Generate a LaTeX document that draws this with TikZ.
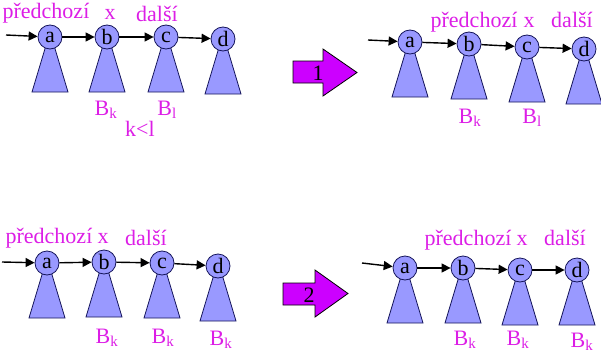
\documentclass[tikz,border=0pt]{standalone}
\usepackage{fontspec}
\setmainfont{Liberation Serif}
\usetikzlibrary{arrows.meta}
\definecolor{nodefill}{RGB}{153,153,255}
\definecolor{nodedraw}{RGB}{20,20,90}
\definecolor{lbl}{RGB}{220,30,230}
\definecolor{bigarrow}{RGB}{204,0,255}
\tikzset{
  circ/.style={circle,draw=nodedraw,fill=nodefill,line width=0.8pt,minimum size=24pt,inner sep=0pt,font=\rmfamily\fontsize{22}{24}\selectfont},
  tri/.style={draw=nodedraw,fill=nodefill,line width=0.8pt},
  lab/.style={text=lbl,anchor=base,inner sep=0pt,font=\rmfamily\fontsize{22}{24}\selectfont},
  link/.style={-{Triangle[length=9pt,width=9pt]},line width=1.4pt,black},
  bigarr/.style={draw=black,fill=bigarrow,line width=0.8pt},
}
\newcommand\mytree[4]{%
  \draw[tri] (#2-1.5,#3) -- (#2+1.5,#3) -- (#2+18,#3+55) -- (#2-18,#3+55) -- cycle;
  \node[circ] (#1) at (#2,#3) {#4};}
\newcommand\Bsub[1]{B\textsubscript{\fontsize{15}{16}\selectfont #1}}
\begin{document}
\begin{tikzpicture}[x=1pt,y=-1pt]
\useasboundingbox (0,0) rectangle (601,353);
% ---------- top left
\mytree{tla}{50}{37}{a}
\mytree{tlb}{107}{37}{b}
\mytree{tlc}{166}{37}{c}
\mytree{tld}{223}{39}{d}
\coordinate (tlin) at (6,35);
\draw[link] (tlin) -- (tla);
\draw[link] (tla) -- (tlb);
\draw[link] (tlb) -- (tlc);
\draw[link] (tlc) -- (tld);
\node[lab] (tl1) at (46,19) {předchozí};
\node[lab] (tl2) at (110,20) {x};
\node[lab] (tl3) at (157,22) {další};
\node[lab] (tl4) at (106,115) {\Bsub{k}};
\node[lab] (tl5) at (167,115) {\Bsub{l}};
\node[lab] (tl6) at (140,136) {k<l};
% ---------- arrow 1
\draw[bigarr] (293,61) -- (323,61) -- (323,49) -- (357,72.5) -- (323,96) -- (323,83) -- (293,83) -- cycle;
\node[lab,text=black] (n1) at (318,80) {1};
% ---------- top right
\mytree{tra}{410}{42}{a}
\mytree{trb}{469}{44}{b}
\mytree{trc}{527}{47}{c}
\mytree{trd}{584}{49}{d}
\coordinate (trin) at (368,40);
\draw[link] (trin) -- (tra);
\draw[link] (tra) -- (trb);
\draw[link] (trb) -- (trc);
\draw[link] (trc) -- (trd);
\node[lab] (tr1) at (474,28) {předchozí};
\node[lab] (tr2) at (529,28) {x};
\node[lab] (tr3) at (572,28) {další};
\node[lab] (tr4) at (470,123) {\Bsub{k}};
\node[lab] (tr5) at (532,123) {\Bsub{l}};
% ---------- bottom left
\mytree{bla}{47}{263}{a}
\mytree{blb}{104}{262}{b}
\mytree{blc}{162}{263}{c}
\mytree{bld}{218}{266}{d}
\coordinate (blin) at (2,262);
\draw[link] (blin) -- (bla);
\draw[link] (bla) -- (blb);
\draw[link] (blb) -- (blc);
\draw[link] (blc) -- (bld);
\node[lab] (bl1) at (49,243) {předchozí};
\node[lab] (bl2) at (103,243) {x};
\node[lab] (bl3) at (146,245) {další};
\node[lab] (bl4) at (107,343) {\Bsub{k}};
\node[lab] (bl5) at (163,343) {\Bsub{k}};
\node[lab] (bl6) at (221,345) {\Bsub{k}};
% ---------- arrow 2
\draw[bigarr] (283,283) -- (315,283) -- (315,270) -- (348,293.5) -- (315,317) -- (315,305) -- (283,305) -- cycle;
\node[lab,text=black] (n2) at (309,302) {2};
% ---------- bottom right
\mytree{bra}{405}{268}{a}
\mytree{brb}{463}{268}{b}
\mytree{brc}{520}{270}{c}
\mytree{brd}{577}{270}{d}
\coordinate (brin) at (362,263);
\draw[link] (brin) -- (bra);
\draw[link] (bra) -- (brb);
\draw[link] (brb) -- (brc);
\draw[link] (brc) -- (brd);
\node[lab] (br1) at (468,245) {předchozí};
\node[lab] (br2) at (522,245) {x};
\node[lab] (br3) at (565,245) {další};
\node[lab] (br4) at (465,345) {\Bsub{k}};
\node[lab] (br5) at (518,345) {\Bsub{k}};
\node[lab] (br6) at (582,347) {\Bsub{k}};
\end{tikzpicture}
\end{document}
